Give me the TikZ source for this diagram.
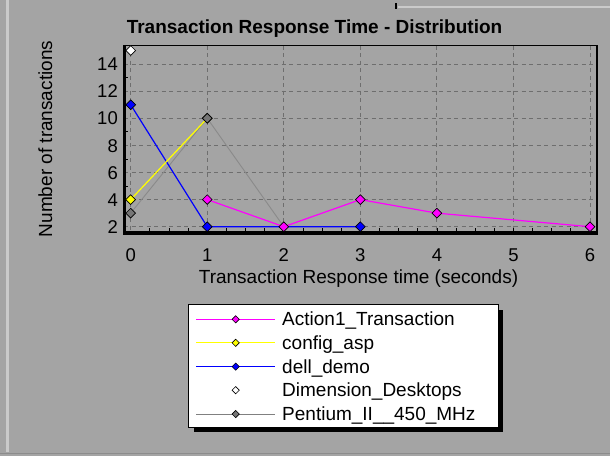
\documentclass[tikz,border=0pt]{standalone}
\usepackage{fontspec}
\setmainfont{Liberation Sans}
\usetikzlibrary{shapes.geometric}
\definecolor{panel}{HTML}{A4A4A4}
\definecolor{gridc}{HTML}{6E6E6E}
\definecolor{edgelight}{HTML}{CACACA}
\definecolor{edgedark}{HTML}{8C8C8C}
\definecolor{pentline}{HTML}{8A8A8A}
\definecolor{pentmark}{HTML}{767676}
\definecolor{actc}{HTML}{FF00FF}
\definecolor{cfgc}{HTML}{FFFF00}
\definecolor{dellc}{HTML}{0000FF}
\definecolor{penlegend}{HTML}{808080}
\begin{document}
\begin{tikzpicture}[x=1pt,y=-1pt,
  lbl/.style={font=\fontsize{19}{22}\selectfont, inner sep=0},
  ticklbl/.style={font=\fontsize{18.5}{22}\selectfont, inner sep=0},
  gridline/.style={gridc, line width=0.9pt, dash pattern=on 4pt off 3.5pt},
  mk/.style={diamond, draw=black, line width=0.7pt, inner sep=0, minimum size=10pt},
  lmk/.style={diamond, draw=black, line width=0.6pt, inner sep=0, minimum size=7.5pt},
  series/.style={line width=1.2pt},
]
% panel background and its bevelled edges
\fill[panel] (0,0) rectangle (610,456);
\useasboundingbox (0,0) rectangle (610,456);
\draw[edgelight, line width=3pt] (7.5,0) -- (7.5,452);
\draw[edgedark, line width=1.5pt] (0,453.5) -- (610,453.5);
\draw[edgelight, line width=2pt] (398,7) -- (610,7);
\draw[black, line width=2pt] (396,3) -- (396,9);

% title and axis captions
\node[lbl, font=\fontsize{19}{22}\selectfont\bfseries, anchor=base] (title) at (314.5,33) {Transaction Response Time - Distribution};
\node[lbl, rotate=90, anchor=base] (ylab) at (52,139) {Number of transactions};
\node[lbl, anchor=base] (xlab) at (358.5,283) {Transaction Response time (seconds)};

% grid, tick labels and minor ticks
\foreach \v in {2,4,...,14} {
  \pgfmathsetmacro{\py}{226.7-13.55*(\v-2)}
  \draw[gridline] (124,\py) -- (597,\py);
  \node[ticklbl, anchor=base east] at (118,\py+6.6) {\v};
}
\foreach \v in {3,5,...,15} {
  \pgfmathsetmacro{\py}{226.7-13.55*(\v-2)}
  \draw[black, line width=0.8pt] (124,\py) -- (128,\py);
}
\foreach \u in {0,...,6} {
  \pgfmathsetmacro{\px}{130.7+76.55*\u}
  \draw[gridline] (\px,45.5) -- (\px,231.5);
  \node[ticklbl, anchor=base] at (\px,261) {\u};
}
\foreach \k in {1,...,24} {
  \pgfmathsetmacro{\px}{130.7+76.55*\k/4}
  \draw[black, line width=0.8pt] (\px,231) -- (\px,227.5);
}

% plot frame
\draw[black, line width=1.3pt] (124,45.5) rectangle (597,232);
\draw[black, line width=3pt] (124,44.8) -- (124,233.5) -- (597.6,233.5);

% data series
\begin{scope}[shift={(130.7,253.8)}, x=76.55pt, y=13.55pt]
  \coordinate (p0) at (0,3);  \coordinate (p1) at (1,10); \coordinate (p2) at (2,2);
  \coordinate (y0) at (0,4);  \coordinate (y1) at (1,10);
  \coordinate (b0) at (0,11); \coordinate (b1) at (1,2);  \coordinate (b2) at (2,2); \coordinate (b3) at (3,2);
  \coordinate (m1) at (1,4);  \coordinate (m2) at (2,2);  \coordinate (m3) at (3,4);
  \coordinate (m4) at (4,3);  \coordinate (m6) at (6,2);
  \coordinate (d0) at (0,15);

  \draw[pentline, line width=0.9pt] (p0) -- (p1) -- (p2);
  \draw[series, dellc] (b0) -- (b1) -- (b2) -- (b3);
  \draw[series, cfgc] (y0) -- (y1);
  \draw[series, actc] (m1) -- (m2) -- (m3) -- (m4) -- (m6);

  \node[mk, fill=cfgc] (ym0) at (y0) {};
  \node[mk, fill=cfgc] (ym1) at (y1) {};
  \node[mk, fill=dellc] (bm0) at (b0) {};
  \node[mk, fill=dellc] (bm1) at (b1) {};
  \node[mk, fill=dellc] (bm3) at (b3) {};
  \node[mk, fill=pentmark] (pm0) at (p0) {};
  \node[mk, fill=pentmark] (pm1) at (p1) {};
  \node[mk, fill=actc] (mm1) at (m1) {};
  \node[mk, fill=actc] (mm2) at (m2) {};
  \node[mk, fill=actc] (mm3) at (m3) {};
  \node[mk, fill=actc] (mm4) at (m4) {};
  \node[mk, fill=actc] (mm6) at (m6) {};
  \node[mk, fill=white] (dm0) at (d0) {};
\end{scope}

% legend with drop shadow
\fill[black] (194,309.5) rectangle (503,432);
\draw[black, fill=white, line width=1pt] (188.5,304.5) rectangle (498,427);
\foreach \name/\txt/\ry in {
    act/Action1\_Transaction/319.3,
    cfg/config\_asp/342.8,
    dell/dell\_demo/366.6,
    dim/Dimension\_Desktops/390.2,
    pen/Pentium\_II\_\_450\_MHz/414} {
  \coordinate (\name s) at (196,\ry);
  \coordinate (\name e) at (275,\ry);
  \coordinate (\name m) at (235.7,\ry);
  \node[lbl, anchor=base west] (\name t) at (282,\ry+6.4) {\txt};
}
\draw[series, actc] (acts) -- (acte);
\draw[series, cfgc] (cfgs) -- (cfge);
\draw[series, dellc] (dells) -- (delle);
\draw[penlegend, line width=1pt] (pens) -- (pene);
\node[lmk, fill=actc] (actk) at (actm) {};
\node[lmk, fill=cfgc] (cfgk) at (cfgm) {};
\node[lmk, fill=dellc] (dellk) at (dellm) {};
\node[lmk, fill=white] (dimk) at (dimm) {};
\node[lmk, fill=pentmark] (penk) at (penm) {};
\end{tikzpicture}
\end{document}
